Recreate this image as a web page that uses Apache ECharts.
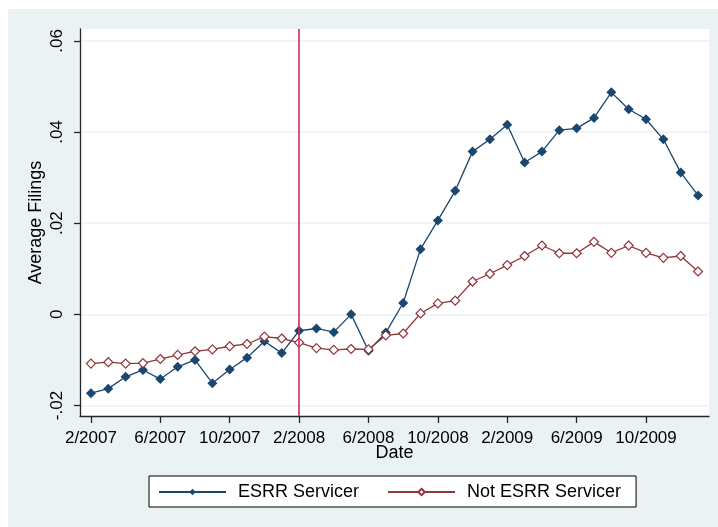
<!DOCTYPE html>
<html>
<head>
<meta charset="utf-8">
<script src="https://cdn.jsdelivr.net/npm/echarts@6/dist/echarts.min.js"></script>
<style>
  html, body { margin: 0; padding: 0; background: #ffffff; }
  #chart { position: absolute; left: 8px; top: 9px; width: 710px; height: 518px; }
</style>
</head>
<body>
<div id="chart"></div>
<script>
// Monthly observations, 2/2007 through 1/2010
const months = [
  '2/2007','3/2007','4/2007','5/2007','6/2007','7/2007','8/2007','9/2007','10/2007','11/2007','12/2007','1/2008',
  '2/2008','3/2008','4/2008','5/2008','6/2008','7/2008','8/2008','9/2008','10/2008','11/2008','12/2008','1/2009',
  '2/2009','3/2009','4/2009','5/2009','6/2009','7/2009','8/2009','9/2009','10/2009','11/2009','12/2009','1/2010'
];

// Average filings, ESRR servicers
const esrrServicer = [
  -0.0173, -0.0163, -0.0137, -0.0122, -0.0142, -0.0115, -0.0100, -0.0151, -0.0121, -0.0095, -0.0059, -0.0085,
  -0.0036, -0.0031, -0.0039, 0.0000, -0.0080, -0.0040, 0.0025, 0.0143, 0.0206, 0.0271, 0.0357, 0.0384,
  0.0416, 0.0333, 0.0357, 0.0404, 0.0408, 0.0431, 0.0487, 0.0450, 0.0428, 0.0384, 0.0311, 0.0261
];

// Average filings, other servicers
const notEsrrServicer = [
  -0.0108, -0.0105, -0.0108, -0.0107, -0.0098, -0.0089, -0.0081, -0.0077, -0.0070, -0.0065, -0.0049, -0.0053,
  -0.0062, -0.0074, -0.0078, -0.0076, -0.0077, -0.0046, -0.0042, 0.0002, 0.0024, 0.0030, 0.0072, 0.0089,
  0.0108, 0.0128, 0.0151, 0.0134, 0.0134, 0.0159, 0.0135, 0.0151, 0.0135, 0.0124, 0.0128, 0.0094
];

// Axis ticks
const xTickMonths = ['2/2007','6/2007','10/2007','2/2008','6/2008','10/2008','2/2009','6/2009','10/2009'];
const yTickValues = [-0.02, 0, 0.02, 0.04, 0.06];
const yTickLabels = ['-.02', '0', '.02', '.04', '.06'];

// Reference month marked with a vertical rule
const eventMonth = '2/2008';

const xTickValues = xTickMonths.map(m => months.indexOf(m));
const toPairs = arr => arr.map((v, i) => [i, v]);

const FONT = '"Liberation Sans", Arial, sans-serif';
const AXIS_COLOR = '#262626';
const BLUE = '#1a476f';
const RED = '#90353b';

const chart = echarts.init(document.getElementById('chart'), null, { renderer: 'canvas' });

chart.setOption({
  backgroundColor: '#eaf2f3',
  animation: false,
  textStyle: { fontFamily: FONT },
  grid: {
    left: 72, right: 9, top: 20, bottom: 111,
    show: true, backgroundColor: '#ffffff', borderWidth: 0
  },
  xAxis: {
    type: 'value',
    min: -0.63,
    max: 35.63,
    name: 'Date',
    nameLocation: 'middle',
    nameGap: 28,
    nameMoveOverlap: false,
    nameTextStyle: { fontFamily: FONT, fontSize: 18, color: '#000' },
    axisLine: { show: true, onZero: false, lineStyle: { color: AXIS_COLOR, width: 1.3 } },
    axisTick: { show: true, length: 7, customValues: xTickValues, lineStyle: { color: AXIS_COLOR, width: 1.3 } },
    axisLabel: {
      customValues: xTickValues,
      margin: 14,
      fontFamily: FONT, fontSize: 17, color: '#000',
      formatter: v => months[Math.round(v)]
    },
    splitLine: { show: false }
  },
  yAxis: {
    type: 'value',
    min: -0.0223,
    max: 0.0626,
    name: 'Average Filings',
    nameLocation: 'middle',
    nameRotate: 90,
    nameGap: 35,
    nameMoveOverlap: false,
    nameTextStyle: { fontFamily: FONT, fontSize: 18, color: '#000' },
    axisLine: { show: true, onZero: false, lineStyle: { color: AXIS_COLOR, width: 1.3 } },
    axisTick: { show: true, length: 6, customValues: yTickValues, lineStyle: { color: AXIS_COLOR, width: 1.3 } },
    axisLabel: {
      customValues: yTickValues,
      rotate: 90,
      margin: 14,
      fontFamily: FONT, fontSize: 17, color: '#000',
      formatter: v => {
        let best = 0;
        yTickValues.forEach((t, i) => { if (Math.abs(t - v) < Math.abs(yTickValues[best] - v)) best = i; });
        return yTickLabels[best];
      }
    },
    splitLine: { show: true, lineStyle: { color: '#eaf2f3', width: 1.5 } }
  },
  legend: {
    left: 141,
    top: 467,
    orient: 'horizontal',
    itemWidth: 67,
    itemHeight: 8,
    itemGap: 28,
    padding: [7, 15, 6, 9],
    backgroundColor: '#ffffff',
    borderColor: '#000000',
    borderWidth: 1,
    textStyle: { fontFamily: FONT, fontSize: 18, color: '#000', padding: [0, 0, 0, 7] },
    data: ['ESRR Servicer', 'Not ESRR Servicer']
  },
  series: [
    {
      name: 'ESRR Servicer',
      type: 'line',
      data: toPairs(esrrServicer),
      symbol: 'diamond',
      symbolSize: 10,
      showAllSymbol: true,
      lineStyle: { color: BLUE, width: 1.3 },
      itemStyle: { color: BLUE, borderWidth: 0 },
      z: 3,
      markLine: {
        silent: true,
        symbol: 'none',
        label: { show: false },
        lineStyle: { color: '#d42a50', width: 1.6, type: 'solid' },
        data: [{ xAxis: months.indexOf(eventMonth) }]
      }
    },
    {
      name: 'Not ESRR Servicer',
      type: 'line',
      data: toPairs(notEsrrServicer),
      symbol: 'diamond',
      symbolSize: 9,
      showAllSymbol: true,
      lineStyle: { color: RED, width: 1.3 },
      itemStyle: { color: '#ffffff', borderColor: RED, borderWidth: 1.2 },
      z: 4
    }
  ]
});
</script>
</body>
</html>
